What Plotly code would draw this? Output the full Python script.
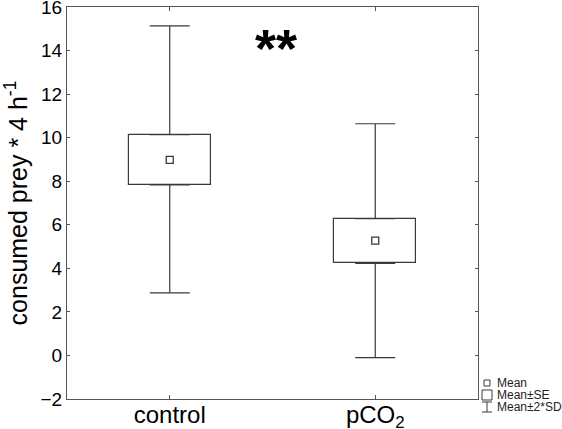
import plotly.graph_objects as go

# group statistics
groups = ['control', 'pCO<sub>2</sub>']
mean = [8.98, 5.27]
se_low = [7.83, 4.23]
se_high = [10.14, 6.28]
sd2_low = [2.87, -0.10]
sd2_high = [15.13, 10.64]

y_ticks = [-2, 0, 2, 4, 6, 8, 10, 12, 14, 16]
legend_labels = ['Mean', 'Mean±SE', 'Mean±2*SD']

line_col = '#3a3a3a'
xs = [0, 1]

# plot area in pixels (used only to place the hand-drawn legend)
PL, PR, PT, PB = 67, 478, 7, 399


def px(x):
    return (x - PL) / (PR - PL)


def py(y):
    return (PB - y) / (PB - PT)


fig = go.Figure()

# upper whiskers (from mean+2SD down to box top)
fig.add_trace(go.Scatter(
    x=xs, y=sd2_high, mode='markers', marker=dict(size=1, color='rgba(0,0,0,0)'),
    error_y=dict(type='data', symmetric=False, array=[0, 0],
                 arrayminus=[h - t for h, t in zip(sd2_high, se_high)],
                 color=line_col, thickness=1.2, width=20),
    showlegend=False, hoverinfo='skip'))
# lower whiskers
fig.add_trace(go.Scatter(
    x=xs, y=sd2_low, mode='markers', marker=dict(size=1, color='rgba(0,0,0,0)'),
    error_y=dict(type='data', symmetric=False, arrayminus=[0, 0],
                 array=[b - l for b, l in zip(se_low, sd2_low)],
                 color=line_col, thickness=1.2, width=20),
    showlegend=False, hoverinfo='skip'))

# mean +- SE boxes
fig.add_trace(go.Bar(
    x=xs, base=se_low, y=[h - l for h, l in zip(se_high, se_low)], width=0.4,
    marker=dict(color='white', line=dict(color=line_col, width=1.2)),
    showlegend=False, hoverinfo='skip'))

# means
fig.add_trace(go.Scatter(
    x=xs, y=mean, mode='markers',
    marker=dict(symbol='square-open', size=7, color=line_col, line=dict(width=1.3)),
    showlegend=False))

# significance stars
fig.add_annotation(x=0.515, y=14.1, xref='x', yref='y', text='<b>**</b>', showarrow=False,
                   font=dict(size=54, color='black', family='Liberation Sans, Arial'))

# legend drawn by hand in the bottom right corner
lx, ly0, dy = 495, 383, 12
for i, lab in enumerate(legend_labels):
    fig.add_annotation(x=px(lx), y=py(ly0 + i * dy), xref='paper', yref='paper',
                       text=lab, showarrow=False, xanchor='left', yanchor='middle',
                       font=dict(size=12, color='#222', family='Liberation Sans, Arial'))
fig.add_shape(type='rect', xref='paper', yref='paper',
              x0=px(484), x1=px(490), y0=py(386), y1=py(380),
              line=dict(color=line_col, width=1))
fig.add_shape(type='rect', xref='paper', yref='paper',
              x0=px(482), x1=px(492), y0=py(400), y1=py(390),
              line=dict(color=line_col, width=1))
for yy in (402, 412):
    fig.add_shape(type='line', xref='paper', yref='paper',
                  x0=px(482), x1=px(492), y0=py(yy), y1=py(yy),
                  line=dict(color=line_col, width=1))
fig.add_shape(type='line', xref='paper', yref='paper',
              x0=px(487), x1=px(487), y0=py(402), y1=py(412),
              line=dict(color=line_col, width=1))

fig.update_layout(
    width=562, height=429,
    margin=dict(l=PL, r=562 - PR, t=PT, b=429 - PB),
    plot_bgcolor='white', paper_bgcolor='white',
    font=dict(family='Liberation Sans, Arial', color='black'),
    bargap=0,
)
fig.update_xaxes(
    range=[-0.5, 1.5], tickvals=xs, ticktext=groups, automargin=False,
    tickfont=dict(size=24), ticks='inside', ticklen=4, tickcolor='#555',
    showline=True, linecolor='#555', linewidth=1.2, mirror='ticks',
    showgrid=False, zeroline=False, ticklabeloverflow='allow', ticklabelstandoff=-6)
fig.update_yaxes(
    range=[-2, 16], tickvals=y_ticks, tickfont=dict(size=19), automargin=False,
    ticks='inside', ticklen=3, tickcolor='#555', ticklabeloverflow='allow',
    showline=True, linecolor='#555', linewidth=1.2, mirror='ticks',
    showgrid=False, zeroline=False,
    title=dict(text='consumed prey * 4 h<sup>-1</sup>', font=dict(size=25), standoff=8))

fig.write_html('out.html', config={'displayModeBar': False},
               post_script="document.body.style.margin='0';")
